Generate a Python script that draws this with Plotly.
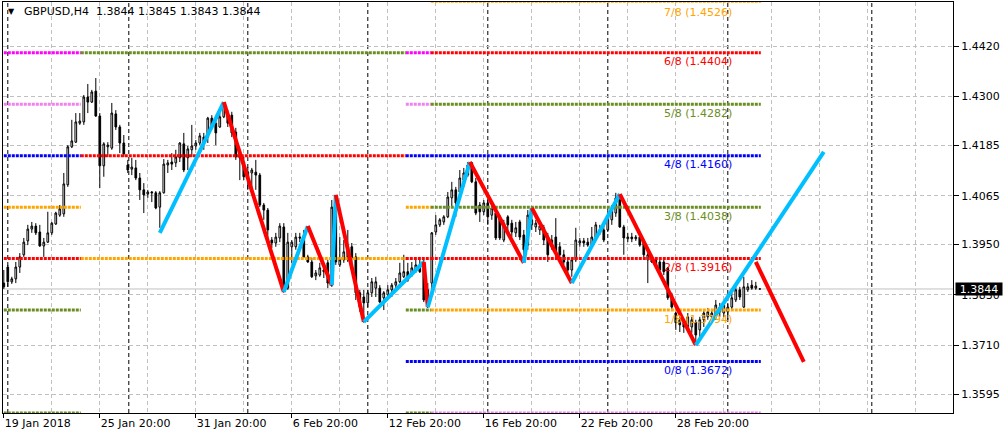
import plotly.graph_objects as go

# ---------------- data ----------------
symbol_title = "GBPUSD,H4  1.3844 1.3845 1.3843 1.3844"
current_price = 1.3844

opens = [1.3858, 1.3896, 1.3861, 1.3868, 1.3896, 1.3925, 1.3958, 1.3986, 1.3993, 1.3979,
         1.3946, 1.3955, 1.3977, 1.3998, 1.4019, 1.4022, 1.4091, 1.4181, 1.4192, 1.4237,
         1.4240, 1.4299, 1.4287, 1.4313, 1.4254, 1.4136, 1.4181, 1.4178, 1.4259, 1.4228,
         1.4190, 1.4138, 1.4128, 1.4131, 1.4107, 1.4079, 1.4069, 1.4074, 1.4072, 1.4038,
         1.4072, 1.4138, 1.4145, 1.4143, 1.4155, 1.4188, 1.4155, 1.4174, 1.4183, 1.4190,
         1.4204, 1.4204, 1.4249, 1.4237, 1.4228, 1.4252, 1.4256, 1.4256, 1.4216, 1.4157,
         1.4145, 1.4110, 1.4119, 1.4121, 1.4114, 1.4043, 1.4031, 1.3960, 1.3953, 1.3965,
         1.3991, 1.3846, 1.3944, 1.3944, 1.3967, 1.3967, 1.3920, 1.3908, 1.3875, 1.3877,
         1.3889, 1.3906, 1.3853, 1.4038, 1.3901, 1.3913, 1.3944, 1.3944, 1.3920, 1.3835,
         1.3825, 1.3811, 1.3835, 1.3846, 1.3846, 1.3823, 1.3830, 1.3842, 1.3853, 1.3861,
         1.3873, 1.3885, 1.3882, 1.3889, 1.3901, 1.3906, 1.3842, 1.3858, 1.3979, 1.3996,
         1.4003, 1.4015, 1.4060, 1.4079, 1.4074, 1.4102, 1.4114, 1.4143, 1.4098, 1.4043,
         1.4027, 1.4048, 1.4019, 1.4024, 1.4012, 1.3960, 1.4015, 1.4000, 1.3977, 1.4003,
         1.3972, 1.3948, 1.3996, 1.3991, 1.3984, 1.3989, 1.3967, 1.3944, 1.3967, 1.3944,
         1.3925, 1.3908, 1.3889, 1.3913, 1.3953, 1.3958, 1.3955, 1.3948, 1.3967, 1.3977,
         1.3984, 1.3984, 1.4008, 1.4024, 1.4055, 1.3991, 1.3963, 1.3967, 1.3963, 1.3967,
         1.3953, 1.3913, 1.3920, 1.3913, 1.3908, 1.3908, 1.3894, 1.3830, 1.3787, 1.3771,
         1.3764, 1.3754, 1.3754, 1.3764, 1.3747, 1.3771, 1.3778, 1.3778, 1.3778, 1.3801,
         1.3787, 1.3790, 1.3801, 1.3818, 1.3842, 1.3801, 1.3842, 1.3853, 1.3846, 1.3844]

highs = [1.3889, 1.3901, 1.3873, 1.3908, 1.3929, 1.3965, 1.3996, 1.4003, 1.4000, 1.3996,
         1.3965, 1.4027, 1.4003, 1.4027, 1.4043, 1.4119, 1.4185, 1.4245, 1.4261, 1.4261,
         1.4304, 1.4330, 1.4316, 1.4344, 1.4261, 1.4192, 1.4192, 1.4285, 1.4268, 1.4233,
         1.4209, 1.4150, 1.4155, 1.4150, 1.4119, 1.4095, 1.4079, 1.4076, 1.4076, 1.4076,
         1.4152, 1.4150, 1.4166, 1.4174, 1.4192, 1.4214, 1.4183, 1.4233, 1.4197, 1.4214,
         1.4214, 1.4252, 1.4256, 1.4245, 1.4261, 1.4287, 1.4268, 1.4264, 1.4226, 1.4166,
         1.4157, 1.4133, 1.4131, 1.4150, 1.4119, 1.4048, 1.4036, 1.3967, 1.3977, 1.4000,
         1.4000, 1.3977, 1.3960, 1.3977, 1.3977, 1.3984, 1.3925, 1.3918, 1.3889, 1.3906,
         1.3906, 1.3913, 1.4055, 1.4064, 1.3967, 1.3960, 1.3984, 1.3953, 1.3929, 1.3842,
         1.3842, 1.3842, 1.3870, 1.3873, 1.3853, 1.3839, 1.3853, 1.3858, 1.3870, 1.3906,
         1.3925, 1.3906, 1.3908, 1.3918, 1.3920, 1.3913, 1.3858, 1.3979, 1.4019, 1.4012,
         1.4019, 1.4074, 1.4098, 1.4086, 1.4126, 1.4131, 1.4145, 1.4145, 1.4107, 1.4050,
         1.4055, 1.4055, 1.4043, 1.4031, 1.4019, 1.4008, 1.4019, 1.4008, 1.4003, 1.4008,
         1.3984, 1.4031, 1.4038, 1.4008, 1.4003, 1.3996, 1.3977, 1.3972, 1.4012, 1.3955,
         1.3937, 1.3918, 1.3918, 1.3989, 1.3965, 1.3965, 1.3965, 1.3991, 1.4003, 1.3996,
         1.4000, 1.4031, 1.4043, 1.4072, 1.4067, 1.3996, 1.3977, 1.3977, 1.3972, 1.3977,
         1.3960, 1.3932, 1.3925, 1.3920, 1.3913, 1.3918, 1.3896, 1.3835, 1.3790, 1.3778,
         1.3771, 1.3787, 1.3778, 1.3771, 1.3778, 1.3794, 1.3799, 1.3794, 1.3818, 1.3811,
         1.3813, 1.3811, 1.3835, 1.3858, 1.3849, 1.3873, 1.3858, 1.3865, 1.3861, 1.3845]

lows = [1.3844, 1.3849, 1.3856, 1.3858, 1.3882, 1.3920, 1.3948, 1.3977, 1.3972, 1.3944,
        1.3920, 1.3953, 1.3972, 1.3996, 1.4015, 1.4015, 1.4086, 1.4178, 1.4190, 1.4233,
        1.4233, 1.4261, 1.4285, 1.4252, 1.4083, 1.4110, 1.4157, 1.4174, 1.4221, 1.4166,
        1.4157, 1.4119, 1.4114, 1.4102, 1.4055, 1.4024, 1.4060, 1.4050, 1.4033, 1.3989,
        1.4070, 1.4119, 1.4126, 1.4133, 1.4145, 1.4121, 1.4126, 1.4157, 1.4174, 1.4185,
        1.4174, 1.4190, 1.4226, 1.4185, 1.4226, 1.4249, 1.4228, 1.4204, 1.4150, 1.4102,
        1.4102, 1.4079, 1.4079, 1.4079, 1.4038, 1.4008, 1.3960, 1.3941, 1.3944, 1.3955,
        1.3835, 1.3842, 1.3906, 1.3937, 1.3955, 1.3918, 1.3906, 1.3870, 1.3865, 1.3873,
        1.3870, 1.3846, 1.3849, 1.3901, 1.3896, 1.3906, 1.3908, 1.3889, 1.3818, 1.3790,
        1.3764, 1.3801, 1.3825, 1.3825, 1.3811, 1.3794, 1.3825, 1.3825, 1.3846, 1.3858,
        1.3870, 1.3861, 1.3873, 1.3882, 1.3882, 1.3813, 1.3799, 1.3842, 1.3972, 1.3991,
        1.3996, 1.4012, 1.4036, 1.4015, 1.4072, 1.4086, 1.4110, 1.4095, 1.4019, 1.4003,
        1.4019, 1.3996, 1.4008, 1.3960, 1.3960, 1.3955, 1.3977, 1.3967, 1.3967, 1.3960,
        1.3908, 1.3937, 1.3984, 1.3979, 1.3972, 1.3948, 1.3908, 1.3937, 1.3920, 1.3918,
        1.3901, 1.3877, 1.3873, 1.3908, 1.3944, 1.3944, 1.3944, 1.3944, 1.3960, 1.3972,
        1.3955, 1.3979, 1.3996, 1.4015, 1.3989, 1.3925, 1.3955, 1.3955, 1.3958, 1.3944,
        1.3918, 1.3858, 1.3906, 1.3896, 1.3885, 1.3877, 1.3818, 1.3794, 1.3747, 1.3742,
        1.3740, 1.3747, 1.3740, 1.3711, 1.3730, 1.3754, 1.3771, 1.3764, 1.3771, 1.3778,
        1.3778, 1.3771, 1.3794, 1.3813, 1.3818, 1.3799, 1.3837, 1.3842, 1.3842, 1.3843]

closes = [1.3849, 1.3861, 1.3868, 1.3896, 1.3920, 1.3955, 1.3986, 1.3993, 1.3977, 1.3946,
          1.3955, 1.3977, 1.4000, 1.4024, 1.4034, 1.4093, 1.4181, 1.4195, 1.4240, 1.4242,
          1.4299, 1.4287, 1.4311, 1.4254, 1.4136, 1.4188, 1.4185, 1.4261, 1.4228, 1.4190,
          1.4164, 1.4126, 1.4133, 1.4107, 1.4079, 1.4067, 1.4074, 1.4072, 1.4036, 1.4072,
          1.4140, 1.4143, 1.4140, 1.4157, 1.4190, 1.4126, 1.4176, 1.4183, 1.4190, 1.4207,
          1.4190, 1.4249, 1.4228, 1.4214, 1.4252, 1.4280, 1.4237, 1.4214, 1.4157, 1.4155,
          1.4110, 1.4121, 1.4126, 1.4114, 1.4043, 1.4031, 1.3984, 1.3953, 1.3967, 1.3993,
          1.3849, 1.3955, 1.3955, 1.3967, 1.3965, 1.3920, 1.3908, 1.3873, 1.3882, 1.3894,
          1.3885, 1.3858, 1.4038, 1.3908, 1.3913, 1.3932, 1.3913, 1.3918, 1.3835, 1.3801,
          1.3811, 1.3835, 1.3861, 1.3861, 1.3813, 1.3835, 1.3842, 1.3853, 1.3861, 1.3882,
          1.3885, 1.3865, 1.3894, 1.3901, 1.3885, 1.3818, 1.3806, 1.3977, 1.3996, 1.4008,
          1.4015, 1.4062, 1.4079, 1.4048, 1.4107, 1.4119, 1.4138, 1.4098, 1.4024, 1.4027,
          1.4048, 1.4015, 1.4036, 1.3965, 1.3965, 1.4000, 1.3996, 1.3979, 1.3989, 1.3967,
          1.3937, 1.4019, 1.4008, 1.4000, 1.3993, 1.3960, 1.3925, 1.3960, 1.3929, 1.3925,
          1.3908, 1.3889, 1.3913, 1.3960, 1.3958, 1.3953, 1.3948, 1.3967, 1.3996, 1.3984,
          1.3960, 1.4015, 1.4031, 1.4060, 1.3991, 1.3965, 1.3967, 1.3963, 1.3967, 1.3948,
          1.3925, 1.3925, 1.3908, 1.3901, 1.3889, 1.3885, 1.3823, 1.3801, 1.3764, 1.3759,
          1.3754, 1.3778, 1.3771, 1.3735, 1.3771, 1.3787, 1.3790, 1.3787, 1.3806, 1.3790,
          1.3806, 1.3801, 1.3823, 1.3842, 1.3825, 1.3849, 1.3849, 1.3846, 1.3851, 1.3844]

bars = list(range(len(opens)))

# time axis (bar index -> label)
tick_bars = [0, 24, 48, 72, 96, 120, 144, 168]
tick_text = ["19 Jan 2018", "25 Jan 20:00", "31 Jan 20:00", "6 Feb 20:00",
             "12 Feb 20:00", "16 Feb 20:00", "22 Feb 20:00", "28 Feb 20:00"]
grid_bars = list(range(0, 240, 12))
week_separator_bars = [1, 31.25, 61, 91, 121, 151, 181, 217]

price_ticks = [1.4420, 1.4300, 1.4185, 1.4065, 1.3950, 1.3830, 1.3710, 1.3595]
price_view = [1.35500, 1.45243]

# Murrey Math levels
mm_prices = [1.4526, 1.4404, 1.4282, 1.4160, 1.4038, 1.3916, 1.3794, 1.3672, 1.3550]
mm_label_names = ["7/8", "6/8", "5/8", "4/8", "3/8", "2/8", "1/8", "0/8"]
mm_label_bar = 173.5
# grid periods: start bar, end bar, octave role of each level (None = not drawn)
mm_seg_start = [-3, 19.25, 100.5, 106.75]
mm_seg_end = [19.25, 100.5, 106.75, 189.25]
mm_seg_roles = [
    [None, "+2/8", "+1/8", "8/8", "7/8", "6/8", "5/8", None, "3/8"],
    [None, "3/8", None, "2/8", None, "1/8", None, None, None],
    [None, "+2/8", "+1/8", "8/8", "7/8", "6/8", "5/8", "4/8", "3/8"],
    ["7/8", "6/8", "5/8", "4/8", "3/8", "2/8", "1/8", "0/8", "-1/8"],
]

# ZigZag pivots
zz_bars = [39, 55, 70, 76, 82, 83, 90, 105, 106, 116.5, 130, 132, 142, 154, 173, 205]
zz_prices = [1.3977, 1.4287, 1.3837, 1.3993, 1.3853, 1.4067, 1.3766, 1.3908, 1.3801,
             1.4145, 1.3906, 1.4036, 1.3858, 1.4069, 1.3711, 1.4169]
proj_bars = [188, 200]
proj_prices = [1.3908, 1.3671]

# ---------------- style ----------------
FONT = "DejaVu Sans, Verdana, sans-serif"
role_color = {
    "+2/8": "#FF00FF", "+1/8": "#EE82EE", "8/8": "#0000FF", "7/8": "#FFA500",
    "6/8": "#FF0000", "5/8": "#6B8E23", "4/8": "#0000FF", "3/8": "#6B8E23",
    "2/8": "#FF0000", "1/8": "#FFA500", "0/8": "#0000FF", "-1/8": "#EE82EE",
}
GRID = "#C0C0C0"
UP_COL = "#00BFFF"
DOWN_COL = "#FF0000"

fig = go.Figure()

fig.add_trace(go.Candlestick(
    x=bars, open=opens, high=highs, low=lows, close=closes,
    increasing=dict(line=dict(color="black", width=1), fillcolor="white"),
    decreasing=dict(line=dict(color="black", width=1), fillcolor="black"),
    whiskerwidth=0, hoverinfo="skip", showlegend=False))

# Murrey lines grouped by colour
by_color = {}
for s in range(len(mm_seg_start)):
    for k, role in enumerate(mm_seg_roles[s]):
        if role is None:
            continue
        c = role_color[role]
        xs, ys = by_color.setdefault(c, ([], []))
        xs += [mm_seg_start[s], mm_seg_end[s], None]
        ys += [mm_prices[k], mm_prices[k], None]
for c, (xs, ys) in by_color.items():
    fig.add_trace(go.Scatter(x=xs, y=ys, mode="lines",
                             line=dict(color=c, width=3, dash="3px,1px"),
                             hoverinfo="skip", showlegend=False))

# ZigZag
for j in range(len(zz_bars) - 1):
    col = UP_COL if zz_prices[j + 1] > zz_prices[j] else DOWN_COL
    fig.add_trace(go.Scatter(x=zz_bars[j:j + 2], y=zz_prices[j:j + 2], mode="lines",
                             line=dict(color=col, width=4), hoverinfo="skip",
                             showlegend=False))
fig.add_trace(go.Scatter(x=proj_bars, y=proj_prices, mode="lines",
                         line=dict(color=DOWN_COL, width=4), hoverinfo="skip",
                         showlegend=False))

shapes = []
for b in week_separator_bars:
    shapes.append(dict(type="line", xref="x", yref="paper", x0=b, x1=b, y0=0, y1=1,
                       line=dict(color="black", width=1, dash="4px,3px"), layer="between"))
shapes.append(dict(type="line", xref="paper", yref="y", x0=0, x1=1,
                   y0=current_price, y1=current_price,
                   line=dict(color="#C0C0C0", width=1), layer="between"))

annotations = [
    dict(xref="paper", yref="paper", x=0.009, y=0.976, text="▼", showarrow=False,
         font=dict(family=FONT, size=8, color="black"), xanchor="center", yanchor="middle"),
    dict(xref="paper", yref="paper", x=0.02, y=0.976, text=symbol_title, showarrow=False,
         font=dict(family=FONT, size=11, color="black"), xanchor="left", yanchor="middle"),
    dict(xref="paper", yref="y", x=1, y=current_price, text=f"{current_price:.4f}",
         showarrow=False, xanchor="left", yanchor="middle", xshift=2,
         bgcolor="black", font=dict(family=FONT, size=11, color="white"),
         width=46, height=12, borderpad=0),
]
last_roles = mm_seg_roles[-1]
for n, p, r in zip(mm_label_names, mm_prices, last_roles):
    lab = dict(xref="x", x=mm_label_bar, text=f"{n} ({p:.4f})", showarrow=False,
               xanchor="center", font=dict(family=FONT, size=11, color=role_color[r]))
    if p > price_view[1]:
        # level sits just above the visible price range: pin its label under the top edge
        lab.update(yref="paper", y=1, yanchor="top", yshift=-2)
    else:
        lab.update(yref="y", y=p, yanchor="middle", yshift=-9)
    annotations.append(lab)

fig.update_layout(
    width=1006, height=437,
    margin=dict(l=3, r=53, t=2, b=24, autoexpand=False),
    paper_bgcolor="white", plot_bgcolor="white",
    font=dict(family=FONT, size=11, color="black"),
    showlegend=False, boxgap=0.4,
    shapes=shapes, annotations=annotations,
    xaxis=dict(range=[-0.2, 237.3], tickmode="array", tickvals=tick_bars, ticktext=tick_text,
               ticks="outside", ticklen=4, tickcolor="black", ticklabelposition="outside right",
               showgrid=True, gridcolor=GRID, griddash="4px,3px", gridwidth=1,
               minor=dict(tickmode="array", tickvals=grid_bars, showgrid=True, gridcolor=GRID,
                          griddash="4px,3px", ticks=""),
               showline=True, linecolor="black", linewidth=1, mirror=True, zeroline=False,
               automargin=False, rangeslider=dict(visible=False), fixedrange=True),
    yaxis=dict(side="right", range=price_view, tickmode="array", tickvals=price_ticks,
               ticktext=[f"{p:.4f}" for p in price_ticks], ticks="outside", ticklen=5,
               tickcolor="black", showgrid=True, gridcolor=GRID, griddash="4px,3px",
               showline=True, linecolor="black", linewidth=1, mirror=True, zeroline=False,
               automargin=False, fixedrange=True),
)

fig.write_html("out.html", config={"displayModeBar": False, "staticPlot": True},
               post_script="document.body.style.margin='0px';document.body.style.overflow='hidden';")
